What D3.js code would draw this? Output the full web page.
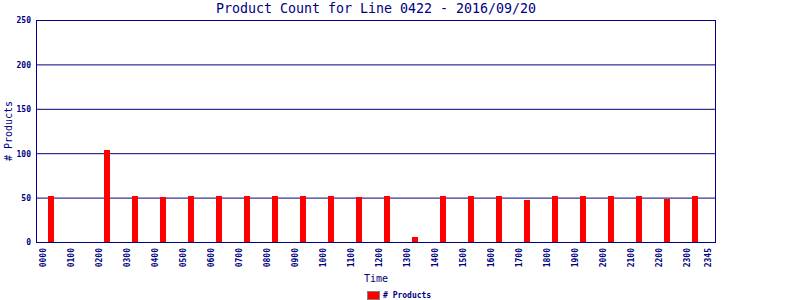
<!DOCTYPE html>
<html>
<head>
<meta charset="utf-8">
<script src="https://cdn.jsdelivr.net/npm/d3@7"></script>
<style>
  body { margin: 0; background: #fff; }
  text { font-family: "DejaVu Sans Mono", monospace; fill: #000080; }
</style>
</head>
<body>
<div class="chart"></div>
<script>
// hourly product counts, line 0422
var hours = [0, 1, 2, 3, 4, 5, 6, 7, 8, 9, 10, 11, 12, 13, 14, 15, 16, 17, 18, 19, 20, 21, 22, 23];
var counts = [52, 0, 104, 52, 51, 52, 52, 52, 52, 52, 52, 51, 52, 6, 52, 52, 52, 48, 52, 52, 52, 52, 49, 52];
var tickHours = [0, 1, 2, 3, 4, 5, 6, 7, 8, 9, 10, 11, 12, 13, 14, 15, 16, 17, 18, 19, 20, 21, 22, 23, 23.75];
var tickLabels = ["0000", "0100", "0200", "0300", "0400", "0500", "0600", "0700", "0800", "0900", "1000", "1100",
                  "1200", "1300", "1400", "1500", "1600", "1700", "1800", "1900", "2000", "2100", "2200", "2300", "2345"];
var yTicks = [0, 50, 100, 150, 200, 250];

var width = 800, height = 300;
var navy = "#000080";

var svg = d3.select(".chart")
  .append("svg")
    .attr("width", width)
    .attr("height", height);

var x = d3.scaleLinear().domain([-0.25, 24]).range([36.5, 715.5]);
var y = d3.scaleLinear().domain([0, 250]).range([242.5, 20.5]);

// grid lines
svg.append("g")
  .selectAll("line")
  .data(yTicks)
  .enter()
  .append("line")
    .attr("x1", x(-0.25))
    .attr("x2", x(24))
    .attr("y1", function(d) { return y(d); })
    .attr("y2", function(d) { return y(d); })
    .attr("stroke", navy)
    .attr("stroke-width", 1);

// bars
svg.append("g")
  .selectAll("rect")
  .data(hours)
  .enter()
  .append("rect")
    .attr("x", function(d) { return Math.round(x(d + 17 / 60)) - 3; })
    .attr("width", 6)
    .attr("y", function(d, i) { return y(counts[i]); })
    .attr("height", function(d, i) { return y(0) - y(counts[i]); })
    .attr("fill", "#ff0000")
    .attr("shape-rendering", "crispEdges");

// frame
svg.append("rect")
    .attr("x", x(-0.25))
    .attr("y", y(250))
    .attr("width", x(24) - x(-0.25))
    .attr("height", y(0) - y(250))
    .attr("fill", "none")
    .attr("stroke", navy)
    .attr("stroke-width", 1);

// y tick labels
svg.append("g")
  .selectAll("text")
  .data(yTicks)
  .enter()
  .append("text")
    .attr("x", 31)
    .attr("y", function(d) { return y(d); })
    .attr("dy", "0.35em")
    .attr("text-anchor", "end")
    .style("font-size", "8px")
    .style("font-weight", "bold")
    .text(function(d) { return d; });

// x tick labels
svg.append("g")
  .selectAll("text")
  .data(tickHours)
  .enter()
  .append("text")
    .attr("transform", function(d) { return "translate(" + x(d) + ",248) rotate(-90)"; })
    .attr("dy", "0.35em")
    .attr("text-anchor", "end")
    .style("font-size", "8px")
    .style("font-weight", "bold")
    .text(function(d, i) { return tickLabels[i]; });

// title
svg.append("text")
    .attr("x", (x(-0.25) + x(24)) / 2)
    .attr("y", 13)
    .attr("text-anchor", "middle")
    .style("font-size", "13.3px")
    .text("Product Count for Line 0422 - 2016/09/20");

// axis titles
svg.append("text")
    .attr("x", (x(-0.25) + x(24)) / 2)
    .attr("y", 282)
    .attr("text-anchor", "middle")
    .style("font-size", "10px")
    .text("Time");

svg.append("text")
    .attr("transform", "translate(12,131) rotate(-90)")
    .attr("text-anchor", "middle")
    .style("font-size", "10px")
    .text("# Products");

// legend
svg.append("rect")
    .attr("x", 367.5)
    .attr("y", 291.5)
    .attr("width", 12)
    .attr("height", 8)
    .attr("fill", "#ff0000")
    .attr("stroke", "#808080");

svg.append("text")
    .attr("x", 383)
    .attr("y", 298)
    .style("font-size", "8px")
    .style("font-weight", "bold")
    .text("# Products");
</script>
</body>
</html>
